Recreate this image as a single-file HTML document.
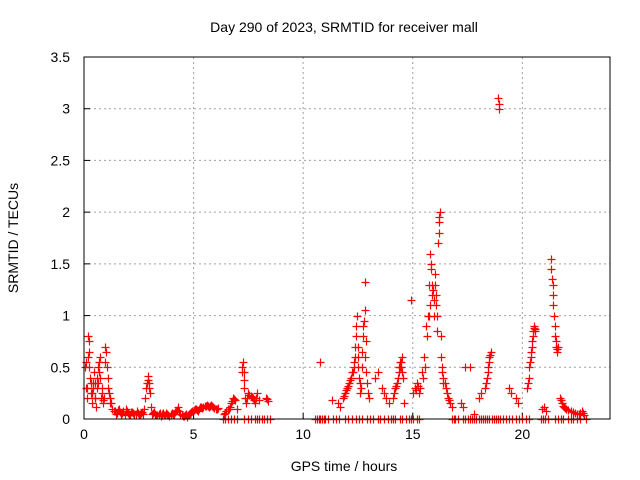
<!DOCTYPE html>
<html><head><meta charset="utf-8"><style>
body{margin:0;background:#fff;}
svg{display:block;font-family:"Liberation Sans",sans-serif;}
</style></head><body>
<svg id="chart" width="640" height="480">
<text x="344" y="32" text-anchor="middle" font-size="14" fill="#000">Day 290 of 2023, SRMTID for receiver mall</text>
<text x="344" y="471" text-anchor="middle" font-size="14">GPS time / hours</text>
<text transform="translate(18,238) rotate(-90)" text-anchor="middle" font-size="14">SRMTID / TECUs</text>
<g id="grid"></g><g id="ticks"></g><g id="marks"></g>
<rect x="84" y="57" width="526" height="362" fill="none" stroke="#000" stroke-width="1"/>
</svg>
<script>
const xTicks=[0,5,10,15,20];
const yTicks=[0,0.5,1,1.5,2,2.5,3,3.5];
const yTickLabels=["0","0.5","1","1.5","2","2.5","3","3.5"];
const times=[0.05,0.1,0.12,0.15,0.2,0.22,0.25,0.28,0.3,0.33,0.35,0.4,0.45,0.5,0.52,0.55,0.6,0.65,0.7,0.72,0.75,0.8,0.85,0.9,0.95,1.0,1.05,1.1,1.15,1.2,1.25,1.3,1.4,1.5,1.6,1.7,1.8,1.9,2.0,2.1,2.2,2.3,2.4,2.5,2.6,2.7,2.8,2.85,2.9,2.95,3.0,3.05,3.1,3.2,3.3,3.4,3.5,3.6,3.7,3.8,3.9,4.0,4.1,4.2,4.3,4.4,4.5,4.6,4.7,4.8,4.9,5.0,5.1,5.2,5.3,5.4,5.5,5.6,5.7,5.8,5.9,6.0,6.1,6.4,6.5,6.6,6.7,6.8,6.9,7.0,7.2,7.25,7.3,7.35,7.4,7.5,7.6,7.7,7.8,7.9,8.0,8.3,8.4,
10.75,11.3,11.6,11.7,11.8,11.9,12.0,12.1,12.2,12.25,12.3,12.35,12.4,12.45,12.5,12.55,12.6,12.65,12.7,12.75,12.8,12.82,12.85,12.9,12.95,13.0,13.3,13.4,13.6,13.7,13.8,13.9,14.1,14.2,14.3,14.35,14.4,14.45,14.5,14.55,14.6,14.9,15.0,15.1,15.2,15.3,15.4,15.5,15.6,15.7,15.75,15.8,15.85,15.9,15.95,16.0,16.05,16.1,16.15,16.2,16.25,16.3,16.35,16.4,16.5,16.6,16.7,16.8,17.2,17.3,17.4,17.6,17.8,18.0,18.1,18.3,18.4,18.45,18.5,18.55,18.9,18.92,18.95,19.4,19.5,19.7,19.8,20.2,20.3,20.35,20.4,20.45,20.5,20.55,20.6,20.9,21.0,21.1,21.3,21.35,21.4,21.45,21.5,21.55,21.6,21.7,21.8,21.9,22.0,22.2,22.4,22.6,22.7,22.8];
const values=[0.5,0.55,0.3,0.2,0.8,0.75,0.65,0.4,0.35,0.25,0.15,0.3,0.45,0.35,0.2,0.12,0.3,0.5,0.55,0.6,0.4,0.25,0.18,0.2,0.7,0.65,0.5,0.3,0.25,0.2,0.15,0.1,0.08,0.06,0.1,0.05,0.08,0.1,0.06,0.04,0.07,0.05,0.08,0.04,0.06,0.05,0.2,0.3,0.42,0.35,0.25,0.12,0.05,0.07,0.04,0.05,0.03,0.06,0.04,0.05,0.03,0.06,0.05,0.08,0.12,0.05,0.03,0.04,0.02,0.05,0.07,0.09,0.1,0.08,0.12,0.11,0.13,0.14,0.12,0.14,0.12,0.1,0.11,0.05,0.08,0.1,0.15,0.2,0.18,0.1,0.45,0.55,0.38,0.2,0.15,0.25,0.22,0.2,0.15,0.25,0.18,0.2,0.17,
0.55,0.18,0.15,0.12,0.2,0.25,0.3,0.35,0.4,0.45,0.5,0.6,0.8,1.0,0.7,0.4,0.25,0.3,0.65,0.9,1.05,1.32,0.75,0.35,0.25,0.2,0.4,0.45,0.3,0.25,0.2,0.15,0.2,0.3,0.35,0.45,0.5,0.55,0.6,0.4,0.15,1.15,0.25,0.3,0.35,0.25,0.45,0.6,0.9,1.0,1.3,1.6,1.5,1.2,1.0,1.4,1.1,0.85,1.7,1.9,2.0,0.6,0.45,0.35,0.3,0.2,0.15,0.12,0.15,0.12,0.5,0.5,0.05,0.2,0.25,0.3,0.4,0.5,0.6,0.65,3.1,3.05,3.0,0.3,0.25,0.2,0.15,0.3,0.4,0.55,0.65,0.75,0.85,0.9,0.85,0.1,0.12,0.08,1.55,1.35,1.2,1.0,0.8,0.7,0.65,0.2,0.15,0.12,0.1,0.08,0.06,0.05,0.08,0.04];
const extraTimes=[0.08,0.18,0.24,0.38,0.42,0.48,0.58,0.62,0.68,0.78,0.83,0.88,0.98,1.08,1.18,1.35,1.45,1.55,1.65,1.75,1.85,1.95,2.05,2.15,2.25,2.35,2.45,2.55,2.65,2.75,2.88,2.92,2.98,3.15,3.25,3.35,3.45,3.55,3.65,3.75,3.85,3.95,4.05,4.15,4.25,4.35,4.45,4.55,4.65,4.75,4.85,4.95,5.05,5.15,5.25,5.35,5.45,5.55,5.65,5.75,5.85,5.95,6.05,6.45,6.55,6.65,6.75,6.85,7.22,7.28,7.32,7.45,7.55,7.65,7.75,7.85,8.35,
11.85,11.95,12.05,12.15,12.28,12.33,12.38,12.42,12.48,12.52,12.58,12.68,12.72,12.78,12.84,12.88,14.15,14.25,14.32,14.38,14.42,14.48,14.52,15.15,15.25,15.35,15.45,15.55,15.65,15.72,15.78,15.82,15.88,15.92,15.98,16.02,16.08,16.12,16.18,16.22,16.28,16.32,16.38,16.45,16.55,16.65,18.35,18.42,18.48,18.52,20.25,20.32,20.38,20.42,20.48,20.52,20.58,21.32,21.38,21.42,21.48,21.52,21.58,21.62,21.75,21.85,21.95,22.1,22.3,22.5,22.65,22.75];
const extraValues=[0.3,0.6,0.5,0.25,0.35,0.2,0.4,0.35,0.45,0.2,0.3,0.15,0.55,0.4,0.15,0.08,0.05,0.09,0.07,0.06,0.04,0.08,0.05,0.07,0.06,0.05,0.06,0.05,0.07,0.1,0.35,0.38,0.3,0.06,0.05,0.04,0.06,0.05,0.04,0.06,0.04,0.05,0.05,0.07,0.09,0.08,0.04,0.03,0.05,0.04,0.06,0.08,0.1,0.09,0.1,0.12,0.12,0.13,0.13,0.13,0.13,0.11,0.1,0.06,0.1,0.12,0.17,0.19,0.5,0.45,0.3,0.2,0.23,0.21,0.18,0.2,0.19,
0.22,0.28,0.32,0.38,0.45,0.55,0.7,0.9,0.6,0.5,0.35,0.5,0.8,0.95,0.6,0.45,0.25,0.32,0.4,0.5,0.55,0.5,0.45,0.28,0.32,0.3,0.4,0.5,0.8,1.0,1.1,1.45,1.3,1.25,1.15,1.3,1.2,1.0,1.8,1.95,0.8,0.5,0.4,0.35,0.25,0.18,0.35,0.45,0.55,0.62,0.35,0.5,0.6,0.7,0.8,0.88,0.87,1.45,1.3,1.1,0.9,0.75,0.68,0.7,0.18,0.13,0.11,0.09,0.07,0.05,0.06,0.06];
const zeroTimes=[6.35,6.45,6.55,6.7,6.85,7.0,7.3,7.5,7.6,7.8,7.9,8.0,8.1,8.2,8.35,8.5,
10.55,10.62,10.7,10.78,10.85,10.93,11.0,11.15,11.35,11.5,11.65,11.9,12.05,12.25,12.4,12.55,12.7,12.9,13.05,13.2,13.4,13.5,13.7,13.85,14.0,14.1,14.2,14.4,14.5,14.7,14.85,14.92,15.0,15.2,15.3,
16.8,16.87,16.95,17.05,17.3,17.4,17.5,17.6,17.7,17.8,17.9,18.0,18.1,18.2,18.3,18.4,18.5,18.6,18.7,18.8,18.9,19.0,19.1,19.25,19.4,19.55,19.7,19.85,20.0,20.15,20.3,
20.85,20.95,21.05,21.15,21.5,21.65,21.75,21.85,22.1,22.2,22.3,22.5,22.65,22.9];
const NS='http://www.w3.org/2000/svg';
const L=84,R=610,T=57,B=419;
function xs(t){return L+(t/24)*(R-L);}
function ys(v){return B-(v/3.5)*(B-T);}
const grid=document.getElementById('grid'),ticks=document.getElementById('ticks'),marks=document.getElementById('marks');
function mk(tag,a,p){const e=document.createElementNS(NS,tag);for(const k in a)e.setAttribute(k,a[k]);p.appendChild(e);return e;}
xTicks.forEach((t,i)=>{const x=xs(t);
 if(t>0){const g=mk('line',{x1:x,x2:x,y1:T,y2:B,stroke:'#a0a0a0','stroke-dasharray':'2,3'},grid);
 
 }
 const tk=mk('line',{x1:x,x2:x,y1:B,y2:B-6,stroke:'#000'},ticks);
 
 
 const lb=mk('text',{x:x,y:B+20,'text-anchor':'middle','font-size':'14'},ticks);lb.textContent=String(t);
 
 
});
yTicks.forEach((v,i)=>{const y=ys(v);
 if(v>0&&v<3.5){const g=mk('line',{x1:L,x2:R,y1:y,y2:y,stroke:'#a0a0a0','stroke-dasharray':'2,3'},grid);
 
 }
 const tk=mk('line',{x1:L,x2:L+6,y1:y,y2:y,stroke:'#000'},ticks);
 
 
 const lb=mk('text',{x:L-14,y:y+5,'text-anchor':'end','font-size':'14'},ticks);lb.textContent=yTickLabels[i];
 
 
});
function plus(t,v){const x=Math.round(xs(t))+0.5,y=Math.round(ys(v))+0.5;
 const p=mk('path',{d:`M${x-4},${y}H${x+4}M${x},${y-4}V${y+4}`,stroke:'#ff0000','stroke-width':'1.2',fill:'none'},marks);
 
 }
times.forEach((t,i)=>plus(t,values[i]));
extraTimes.forEach((t,i)=>plus(t,extraValues[i]));
zeroTimes.forEach(t=>plus(t,0));
</script>
</body></html>
